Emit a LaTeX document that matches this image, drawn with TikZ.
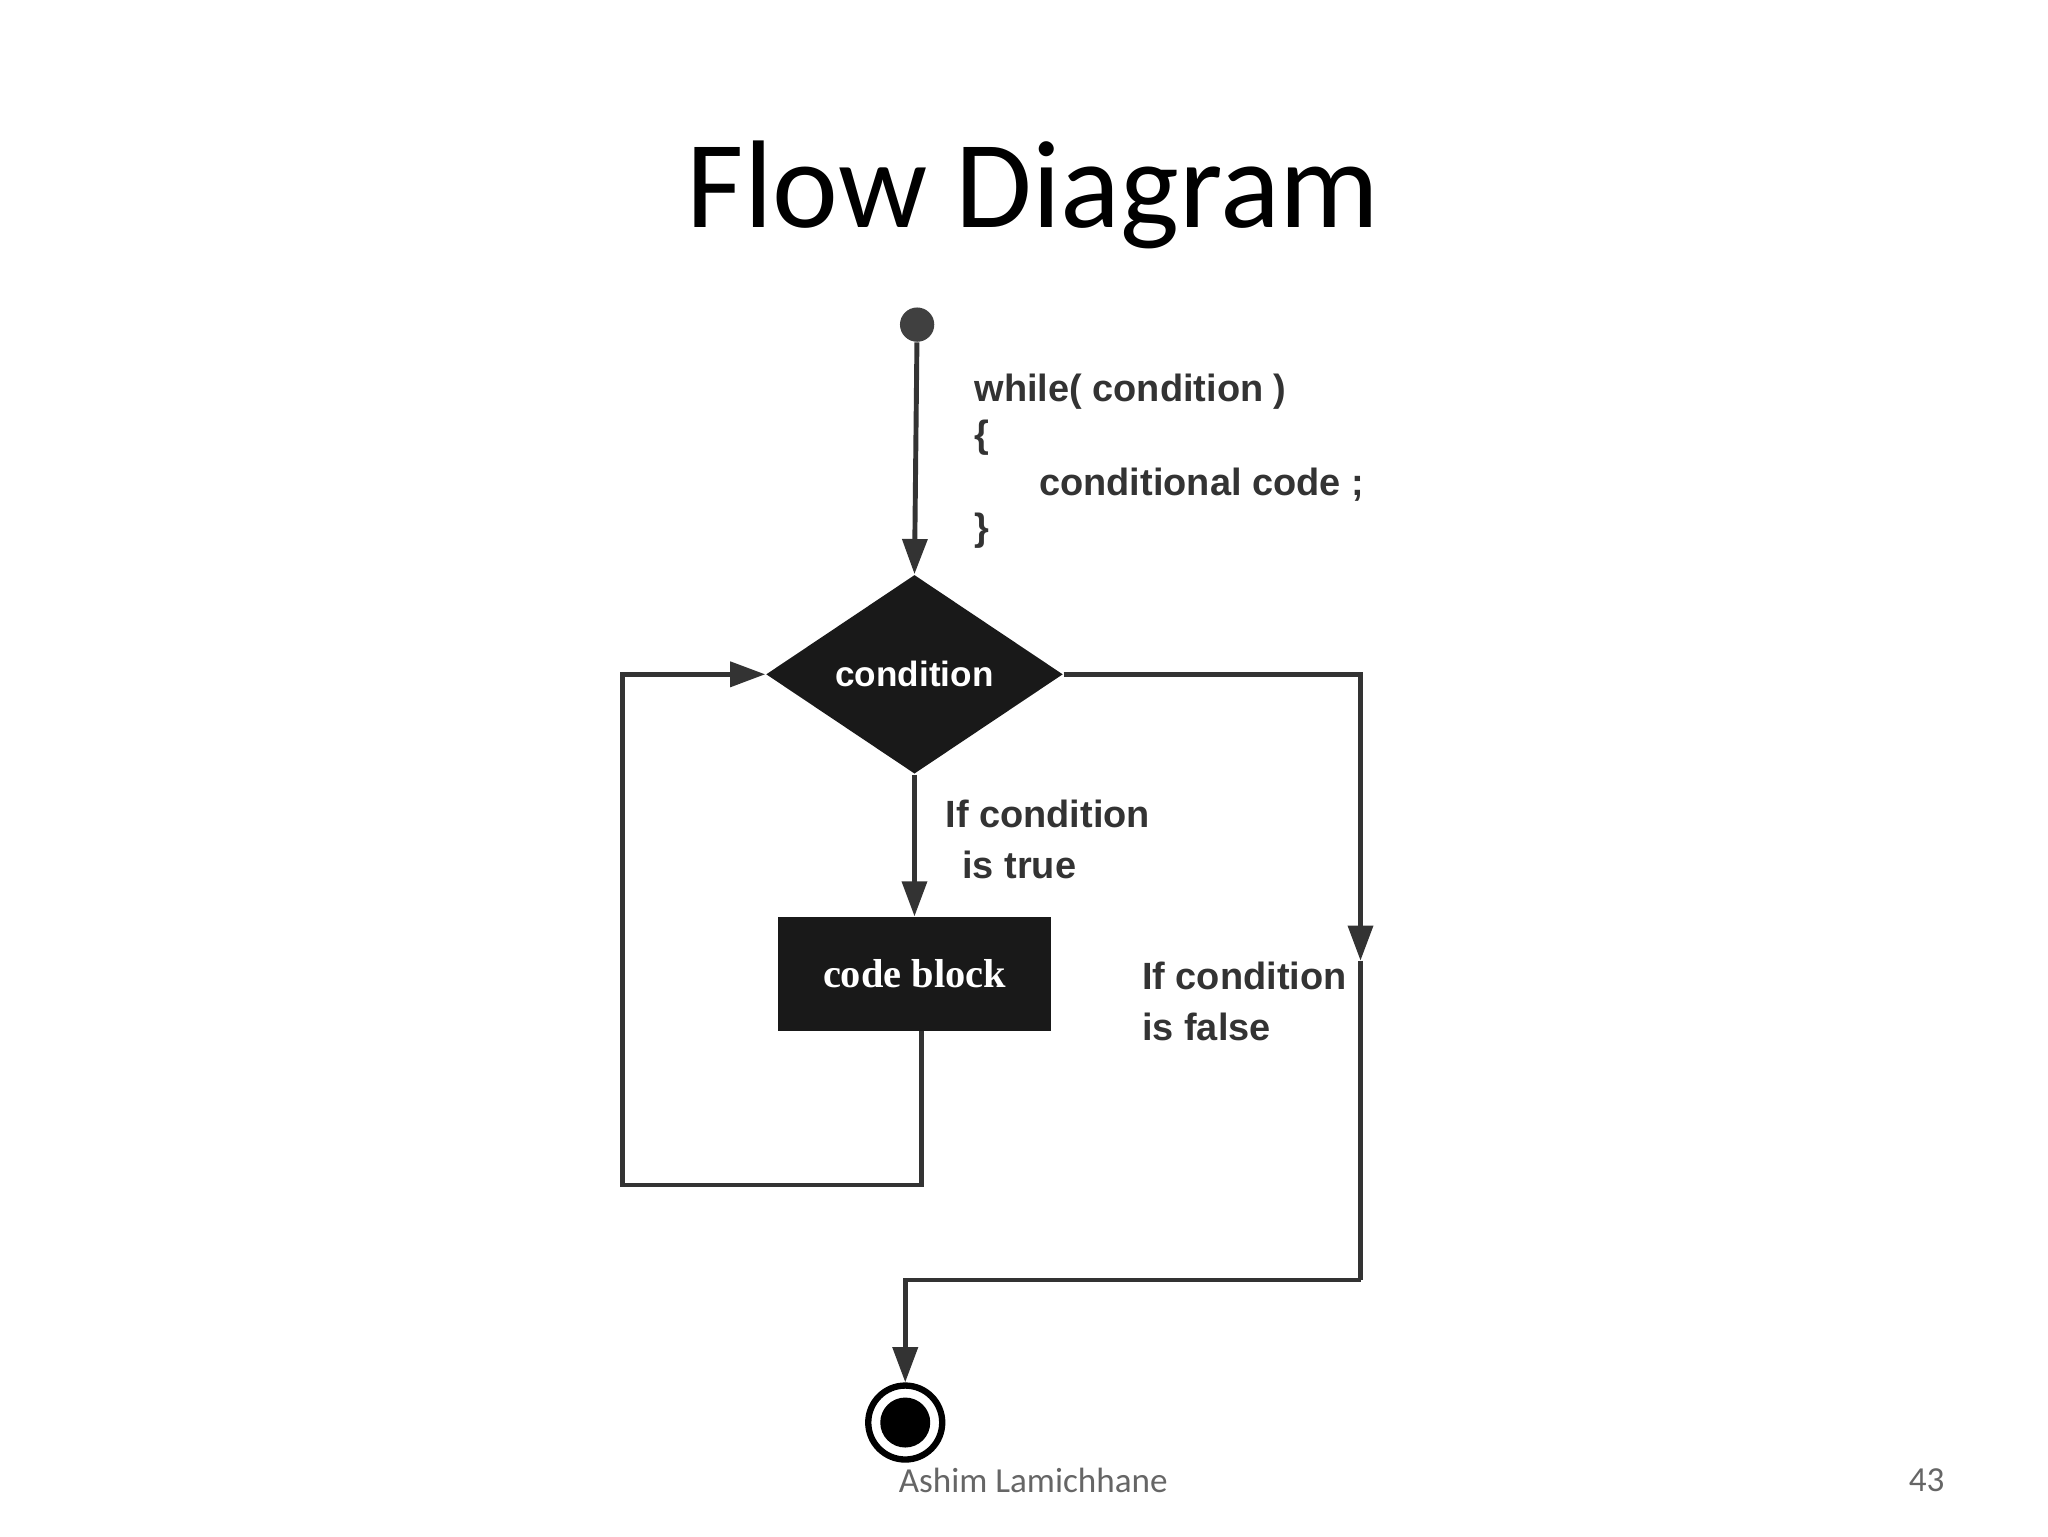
\documentclass[tikz,border=0pt]{standalone}
\usepackage{fontspec}
\setmainfont{Liberation Sans}
\newfontfamily\titlefont{Carlito}
\newfontfamily\serifb{Liberation Serif}
\usetikzlibrary{shapes.geometric,arrows.meta}
\begin{document}
\begin{tikzpicture}[x=0.0132cm,y=-0.0132cm,
  ln/.style={draw=black!80,line width=1.4pt},
  arr/.style={ln,-{Triangle[length=10pt,width=7pt]}},
  lbl/.style={font=\bfseries\fontsize{10.8}{13.5}\selectfont,text=black!80,align=left,anchor=west,inner sep=0pt}]
\useasboundingbox (0,0) rectangle (1552,1164);
\node[font=\titlefont\fontsize{35.5}{40}\selectfont] (title) at (783,148) {Flow Diagram};
\node[circle,fill=black!75,minimum size=0.343cm,inner sep=0pt] (start) at (695,246) {};
\node[diamond,fill=black!90,minimum width=2.97cm,minimum height=1.99cm,inner sep=0pt,text=white,font=\bfseries\fontsize{10}{12}\selectfont] (d) at (693,511) {condition};
\node[fill=black!90,minimum width=2.73cm,minimum height=1.135cm,inner sep=0pt,text=white,font=\serifb\bfseries\fontsize{11.5}{14}\selectfont] (cb) at (693,738) {code block};
\node[circle,draw=black,line width=1.8pt,minimum size=0.74cm,inner sep=0pt] (end) at (686,1078) {};
\node[circle,fill=black,minimum size=0.5cm,inner sep=0pt] (endin) at (686,1078) {};
\node[lbl] (c1) at (738,297) {while( condition )};
\node[lbl] (c2) at (738,332) {\{};
\node[lbl] (c3) at (787,367) {conditional code ;};
\node[lbl] (c4) at (738,402) {\}};
\node[lbl] (t) at (716,636) {If condition\\[1pt]\ \,is true};
\node[lbl] (f) at (865,759) {If condition\\[1pt]is false};
\draw[arr] (start) -- (d.north);
\draw[arr] (d.south) -- (cb.north);
\coordinate (lb) at (472,898);
\draw[arr] (cb.south -| 698,0) |- (lb) |- (d.west);
\coordinate (fm) at (1031,728);
\coordinate (fb) at (1031,970);
\draw[arr] (d.east) -| (fm);
\draw[ln] (fm) -- (fb);
\draw[arr] (fb) -| (end.north);
\node[font=\titlefont\fontsize{10}{12}\selectfont,text=black!60] (a) at (783,1122) {Ashim Lamichhane};
\node[font=\titlefont\fontsize{10}{12}\selectfont,text=black!60] (n) at (1460,1122) {43};
\end{tikzpicture}
\end{document}
